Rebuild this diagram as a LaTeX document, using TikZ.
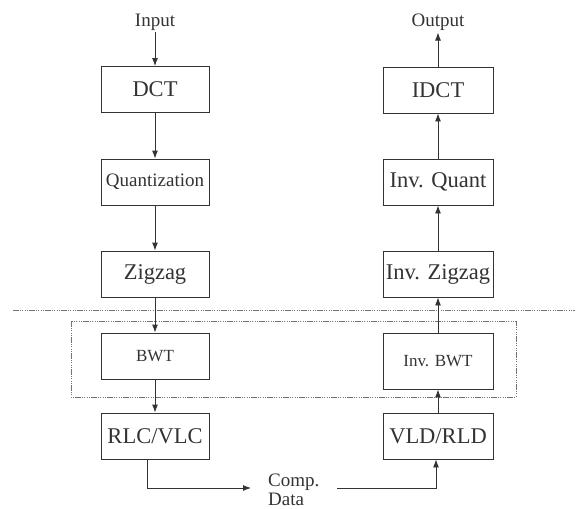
\documentclass[tikz,border=0pt]{standalone}
\usepackage{fontspec}
\setmainfont{Liberation Serif}
\usetikzlibrary{arrows.meta}
\definecolor{ink}{HTML}{333333}
\tikzset{
  box/.style={draw=ink, line width=0.9pt, minimum height=46pt, inner sep=0pt,
              text=ink, font=\fontsize{22.5}{26}\selectfont},
  lbox/.style={box, minimum width=108pt},
  rbox/.style={box, minimum width=110pt},
  mid/.style={font=\fontsize{19}{22}\selectfont},
  small/.style={font=\fontsize{17}{20}\selectfont},
  lbl/.style={text=ink, font=\fontsize{19}{19}\selectfont, inner sep=2pt},
  arr/.style={draw=ink, line width=0.9pt, -{Latex[length=8pt,width=6pt]}},
  sep/.style={draw=black!55, line width=0.9pt,
              dash pattern=on 6pt off 1.2pt on 1pt off 1.2pt on 1pt off 1.2pt on 1pt off 1.2pt on 1pt off 1.2pt}
}
\begin{document}
\begin{tikzpicture}[x=1pt,y=-1pt]
  \useasboundingbox (0,0) rectangle (579,509);

  % encoder column
  \node[lbl] (in) at (155,22) {Input};
  \node[lbox] (dct) at (155,89.5) {DCT};
  \node[lbox, mid] (qz) at (155,182) {Quantization};
  \node[lbox] (zz) at (155,274) {Zigzag};
  \node[lbox, small] (bwt) at (155,356) {BWT};
  \node[lbox] (rlc) at (155,436) {RLC/VLC};

  % decoder column
  \node[lbl] (out) at (438,22) {Output};
  \node[rbox] (idct) at (438,90) {IDCT};
  \node[rbox] (iq) at (438,182) {Inv. Quant};
  \node[rbox] (izz) at (438,274) {Inv. Zigzag};
  \node[rbox, small, minimum height=56pt] (ibwt) at (438,361) {Inv. BWT};
  \node[rbox] (vld) at (438,436) {VLD/RLD};

  % compressed stream between the two columns
  \node[lbl, align=left, inner xsep=17pt, anchor=west] (cd) at (251,490) {Comp.\\Data};
  \coordinate (cdin) at (251,488);
  \coordinate (cdout) at (337,488);

  % separator line and BWT stage frame
  \draw[sep] (13,310) -- (575,310);
  \draw[sep] (71,321) rectangle (516,397);

  % encoder flow
  \draw[arr] (in) -- (dct);
  \draw[arr] (dct) -- (qz);
  \draw[arr] (qz) -- (zz);
  \draw[arr] (zz) -- (bwt);
  \draw[arr] (bwt) -- (rlc);
  \draw[arr] ([xshift=-8pt]rlc.south) |- (cdin);

  % decoder flow
  \draw[arr] (cdout) -| ([xshift=-2pt]vld.south);
  \draw[arr] (vld) -- (ibwt);
  \draw[arr] (ibwt) -- (izz);
  \draw[arr] (izz) -- (iq);
  \draw[arr] (iq) -- (idct);
  \draw[arr] (idct) -- (out);
\end{tikzpicture}
\end{document}
